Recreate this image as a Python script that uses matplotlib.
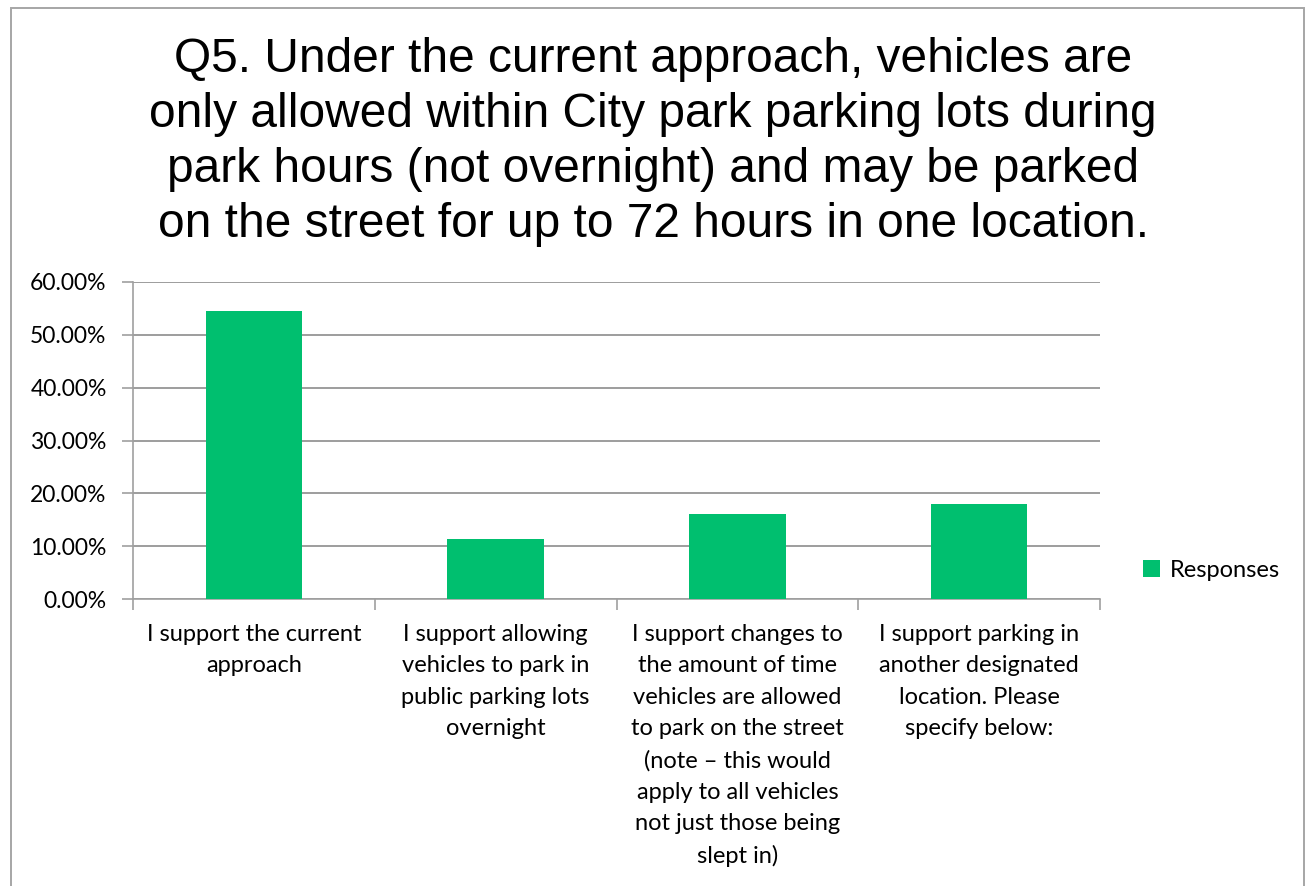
import matplotlib.pyplot as plt
import numpy as np
from matplotlib.patches import Rectangle
from matplotlib.ticker import FuncFormatter

# Survey answers, share of responses (%)
categories = [
    "I support the current\napproach",
    "I support allowing\nvehicles to park in\npublic parking lots\novernight",
    "I support changes to\nthe amount of time\nvehicles are allowed\nto park on the street\n(note \u2013 this would\napply to all vehicles\nnot just those being\nslept in)",
    "I support parking in\nanother designated\nlocation. Please\nspecify below:",
]
responses = [54.46, 11.30, 16.09, 17.98]
series_name = "Responses"
title = ("Q5. Under the current approach, vehicles are\n"
         "only allowed within City park parking lots during\n"
         "park hours (not overnight) and may be parked\n"
         "on the street for up to 72 hours in one location.")

GREEN = "#00BF6F"
GRID = "#8c8c8c"
LABEL_FONT = ["Lato", "DejaVu Sans"]

fig = plt.figure(figsize=(13.06, 8.86), dpi=100)
W, H = 1306, 886
ax = fig.add_axes([133 / W, 1 - 599 / H, (1100 - 133) / W, (599 - 282) / H])

# chart-area border
fig.patches.append(Rectangle((11 / W, -0.1), (1304 - 11) / W, 1.1 - 7.5 / H,
                             transform=fig.transFigure, fill=False,
                             edgecolor="#a6a6a6", linewidth=1.4))

x = np.arange(len(categories))
ax.bar(x, responses, width=0.4, color=GREEN, label=series_name, zorder=3)

ax.set_xlim(-0.5, len(categories) - 0.5)
ax.set_ylim(0, 60)
ax.set_yticks(np.arange(0, 61, 10))
ax.yaxis.set_major_formatter(FuncFormatter(lambda v, _: f"{v:.2f}%"))
ax.grid(axis="y", color=GRID, linewidth=1.2, zorder=0)

for s in ["top", "right"]:
    ax.spines[s].set_visible(False)
for s in ["left", "bottom"]:
    ax.spines[s].set_color("#a0a0a0")
    ax.spines[s].set_linewidth(1.2)

ax.set_xticks(x)
ax.set_xticklabels(categories, fontfamily=LABEL_FONT, fontsize=17,
                   linespacing=1.61, va="top")
ax.set_xticks(np.arange(-0.5, len(categories)), minor=True)
ax.tick_params(axis="x", which="major", length=0, pad=18)
ax.tick_params(axis="x", which="minor", length=8, color="#a0a0a0", width=1.2)
ax.tick_params(axis="y", length=8, color="#a0a0a0", width=1.2, pad=11,
               labelsize=16.5)
for lab in ax.get_yticklabels():
    lab.set_fontfamily(LABEL_FONT)

leg = ax.legend(loc="center left", bbox_to_anchor=(1.022, 0.09), frameon=False,
                prop={"family": LABEL_FONT, "size": 17},
                handlelength=0.75, handleheight=0.75, handletextpad=0.4)

fig.text(0.5, 1 - 142 / H, title, ha="center", va="center",
         fontfamily=["Liberation Sans", "DejaVu Sans"], fontsize=34.5,
         linespacing=1.29)

fig.savefig("out.png", dpi=100)
